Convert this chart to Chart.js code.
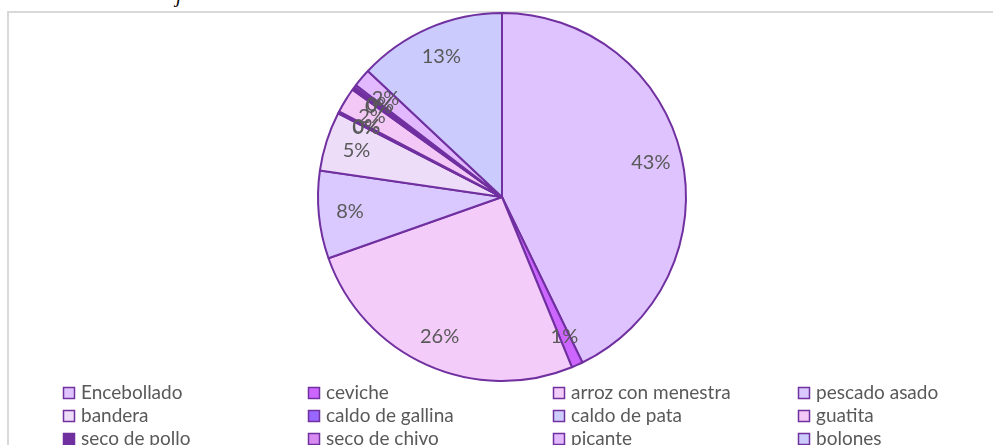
<!DOCTYPE html>
<html>
<head>
<meta charset="utf-8">
<script src="https://cdn.jsdelivr.net/npm/chart.js@4.4.1/dist/chart.umd.min.js"></script>
<style>
  html, body { margin: 0; padding: 0; background: #fff; }
  #wrap { position: relative; width: 993px; height: 445px; overflow: hidden; }
  #frame { position: absolute; left: 7px; top: 11px; width: 990px; height: 440px;
           border-left: 2px solid #D9D9D9; border-top: 2px solid #D9D9D9; box-sizing: border-box; }
  #cap { position: absolute; left: 176px; top: -15px; font: italic 20px "Liberation Serif", serif; line-height: 20px; color: #000; }
  canvas { position: absolute; left: 0; top: 0; }
</style>
</head>
<body>
<div id="wrap">
  <div id="frame"></div>
  <div id="cap">j</div>
  <canvas id="c" width="993" height="445"></canvas>
</div>
<script>
const categories = ["Encebollado", "ceviche", "arroz con menestra", "pescado asado",
  "bandera", "caldo de gallina", "caldo de pata", "guatita",
  "seco de pollo", "seco de chivo", "picante", "bolones"];
const shares = [42.8, 1.0, 25.8, 7.7, 5.2, 0.1, 0.1, 2.2, 0.3, 0.2, 1.6, 13.0];
const sliceColors = ["#DFC3FE", "#CC66FF", "#F3CCF9", "#D9C9FE",
  "#EEDDF9", "#9966FF", "#CCCCFF", "#F4C8F6",
  "#7030A0", "#D88BF0", "#E2B8FF", "#CBCBFE"];
const edgeColor = "#7030A0";
const textColor = "#595959";
const FONT = "Lato, 'Open Sans', sans-serif";

const labelPlugin = {
  id: 'pctLabels',
  afterDatasetsDraw(chart) {
    const ctx = chart.ctx;
    const meta = chart.getDatasetMeta(0);
    const data = chart.data.datasets[0].data;
    const total = data.reduce((a, b) => a + b, 0);
    ctx.save();
    ctx.font = "20px " + FONT;
    ctx.fillStyle = textColor;
    ctx.textAlign = 'center';
    ctx.textBaseline = 'middle';
    meta.data.forEach((arc, i) => {
      const p = arc.getProps(['x', 'y', 'startAngle', 'endAngle', 'outerRadius'], true);
      const mid = (p.startAngle + p.endAngle) / 2;
      const r = p.outerRadius * 0.83;
      const tx = p.x + Math.cos(mid) * r;
      const ty = p.y + Math.sin(mid) * r;
      ctx.fillText(Math.round(data[i] / total * 100) + '%', tx, ty);
    });
    ctx.restore();
  }
};

const legendPlugin = {
  id: 'gridLegend',
  afterDraw(chart) {
    const ctx = chart.ctx;
    const labels = chart.data.labels;
    const colors = chart.data.datasets[0].backgroundColor;
    const colX = [63, 308, 553, 798];
    const rowY = [393, 416, 439];
    ctx.save();
    ctx.font = "19px " + FONT;
    ctx.textBaseline = 'middle';
    ctx.textAlign = 'left';
    labels.forEach((lab, i) => {
      const x = colX[i % 4];
      const y = rowY[Math.floor(i / 4)];
      ctx.fillStyle = colors[i];
      ctx.fillRect(x + 0.5, y - 5.5, 11, 11);
      ctx.strokeStyle = edgeColor;
      ctx.lineWidth = 1.5;
      ctx.strokeRect(x + 0.5, y - 5.5, 11, 11);
      ctx.fillStyle = textColor;
      ctx.fillText(lab, x + 18, y);
    });
    ctx.restore();
  }
};

new Chart(document.getElementById('c'), {
  type: 'pie',
  data: {
    labels: categories,
    datasets: [{
      data: shares,
      backgroundColor: sliceColors,
      borderColor: edgeColor,
      borderWidth: 2
    }]
  },
  options: {
    responsive: false,
    animation: false,
    layout: { padding: { top: 12, bottom: 63, left: 11, right: 0 } },
    plugins: { legend: { display: false }, tooltip: { enabled: false } }
  },
  plugins: [labelPlugin, legendPlugin]
});
</script>
</body>
</html>
